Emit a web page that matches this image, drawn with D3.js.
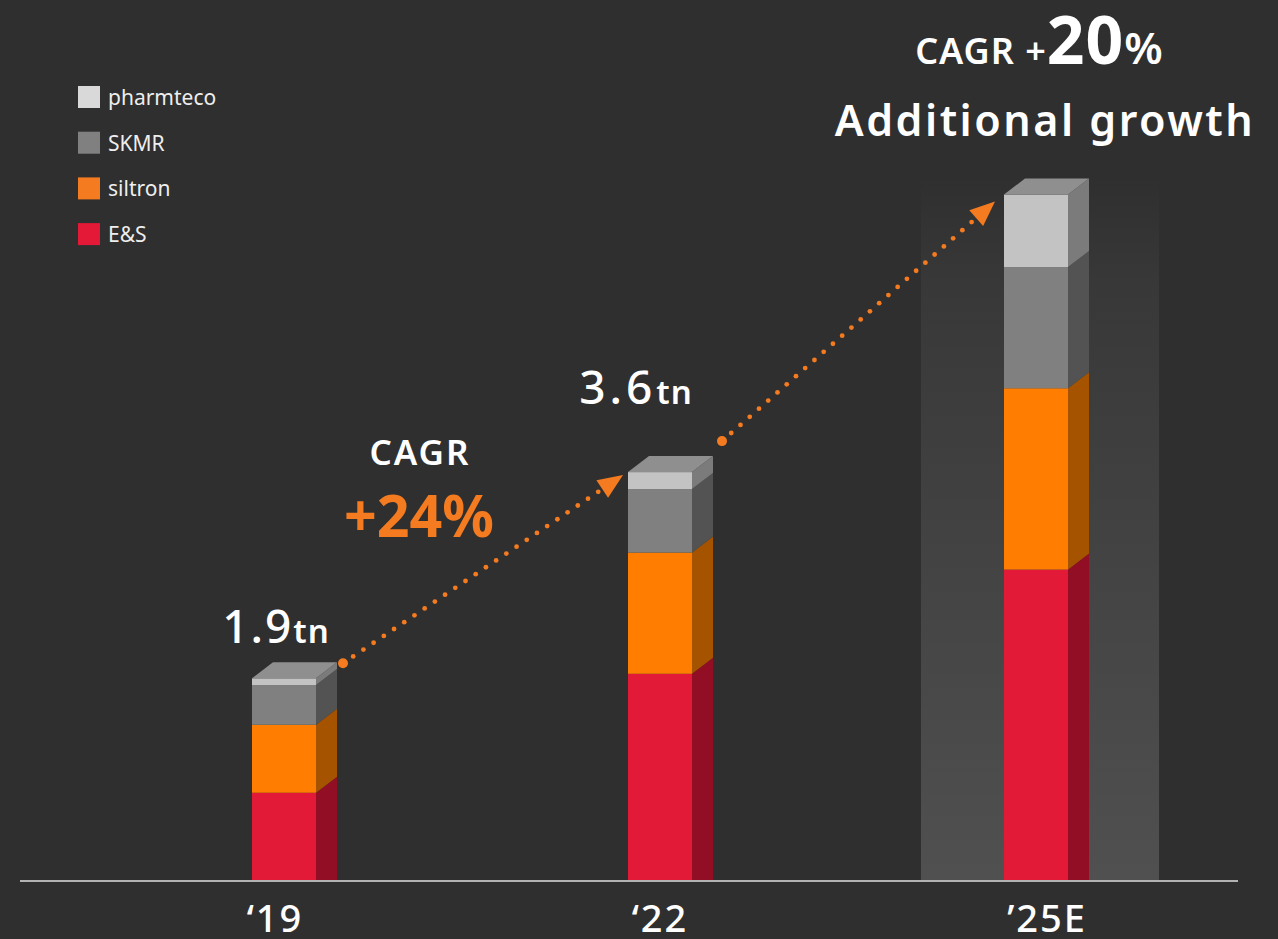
<!DOCTYPE html>
<html>
<head>
<meta charset="utf-8">
<script src="https://cdn.jsdelivr.net/npm/d3@7"></script>
<style>
  html, body { margin: 0; padding: 0; background: #2f2f2f; }
  svg { display: block; }
</style>
</head>
<body>
<div class="chart-container" style="width:1278px;height:939px"></div>
<script>
// data (trillion KRW)
const years = ['19', '22', '25E'];
const yearLabels = ['\u201819', '\u201822', '\u201925E'];
const segments = ['E&S', 'siltron', 'SKMR', 'pharmteco'];
const esVals = [0.77, 1.82, 2.74];
const siltronVals = [0.60, 1.07, 1.60];
const skmrVals = [0.35, 0.56, 1.07];
const pharmVals = [0.06, 0.15, 0.64];
const totalLabels = ['1.9', '3.6', null];
const legendOrder = ['pharmteco', 'SKMR', 'siltron', 'E&S'];

const front = { 'E&S': '#e21a38', 'siltron': '#ff7d00', 'SKMR': '#808080', 'pharmteco': '#c3c3c3' };
const side = { 'E&S': '#920e24', 'siltron': '#a65300', 'SKMR': '#535353', 'pharmteco': '#7b7b7b' };
const legendCol = { 'pharmteco': '#d9d9d9', 'SKMR': '#808080', 'siltron': '#f47b20', 'E&S': '#e31937' };

const table = years.map((y, i) => ({
  year: y, 'E&S': esVals[i], siltron: siltronVals[i], SKMR: skmrVals[i], pharmteco: pharmVals[i]
}));

const W = 1278, H = 939;
const base = 880;
const barW = 64, dx = 21, dy = 16;

const svg = d3.select('.chart-container').append('svg')
  .attr('width', W).attr('height', H)
  .style('font-family', '"Noto Sans", "Open Sans", sans-serif');

svg.append('rect').attr('width', W).attr('height', H).attr('fill', '#2f2f2f');

const x = d3.scalePoint().domain(years).range([96, 1224]).padding(0.5);
const y = d3.scaleLinear().domain([0, 7]).range([base, base - 7 * 113.3]);

const stack = d3.stack().keys(segments)(table);

// highlight column behind the estimate
const defs = svg.append('defs');
const grad = defs.append('linearGradient').attr('id', 'glow')
  .attr('x1', 0).attr('y1', 0).attr('x2', 0).attr('y2', 1);
grad.append('stop').attr('offset', '0%').attr('stop-color', '#2f2f2f');
grad.append('stop').attr('offset', '15%').attr('stop-color', '#383838');
grad.append('stop').attr('offset', '100%').attr('stop-color', '#505050');

svg.append('rect')
  .attr('x', x('25E') - 115).attr('width', 238)
  .attr('y', y(6.2)).attr('height', base - y(6.2))
  .attr('fill', 'url(#glow)');

// bars
const plot = svg.append('g');
stack.forEach(layer => {
  const key = layer.key;
  const g = plot.append('g').attr('class', 'layer');
  layer.forEach(d => {
    const x0 = x(d.data.year) - barW / 2;
    const x1 = x0 + barW;
    const yt = y(d[1]), yb = y(d[0]);
    g.append('rect')
      .attr('x', x0).attr('y', yt).attr('width', barW).attr('height', yb - yt)
      .attr('fill', front[key]);
    const bottomY = d[0] === 0 ? yb : yb - dy;
    g.append('path')
      .attr('d', `M${x1},${yt}L${x1 + dx},${yt - dy}L${x1 + dx},${bottomY}L${x1},${yb}Z`)
      .attr('fill', side[key]);
  });
});

// top faces
table.forEach(d => {
  const tot = segments.reduce((s, k) => s + d[k], 0);
  const x0 = x(d.year) - barW / 2, yt = y(tot);
  plot.append('path')
    .attr('d', `M${x0},${yt}L${x0 + dx},${yt - dy}L${x0 + barW + dx},${yt - dy}L${x0 + barW},${yt}Z`)
    .attr('fill', '#8f8f8f');
});

// baseline
svg.append('line')
  .attr('x1', 20).attr('x2', 1238).attr('y1', base + 1).attr('y2', base + 1)
  .attr('stroke', '#b3b3b3').attr('stroke-width', 2);

// x labels
svg.selectAll('.xl').data(years).join('text')
  .attr('class', 'xl')
  .attr('x', (d, i) => x(d) + [-9, 0, 11][i])
  .attr('y', 932)
  .attr('text-anchor', 'middle')
  .attr('fill', '#ffffff')
  .attr('font-size', 38)
  .attr('font-weight', 500)
  .attr('letter-spacing', 2)
  .text((d, i) => yearLabels[i]);

// total labels
table.forEach((d, i) => {
  if (!totalLabels[i]) return;
  const tot = segments.reduce((s, k) => s + d[k], 0);
  const t = svg.append('text')
    .attr('x', x(d.year) - 8 + (i === 1 ? -16 : 0))
    .attr('y', y(tot) - 35 - (i === 1 ? 33 : 0))
    .attr('text-anchor', 'middle')
    .attr('fill', '#ffffff')
    .attr('font-weight', 500);
  t.append('tspan').attr('font-size', 46).attr('letter-spacing', i === 1 ? 4 : 2).text(totalLabels[i]);
  t.append('tspan').attr('font-size', 33).attr('font-weight', 600).attr('letter-spacing', 1).text('tn');
});

// legend
const legend = svg.append('g').attr('transform', 'translate(78,86)');
legendOrder.forEach((k, i) => {
  const row = legend.append('g').attr('transform', `translate(0,${i * 45.7})`);
  row.append('rect').attr('width', 22).attr('height', 22).attr('fill', legendCol[k]);
  row.append('text').attr('x', 30).attr('y', 19)
    .attr('fill', '#eeeeee').attr('font-size', 21).text(k);
});

// dotted growth arrows
const orange = '#f47b20';
function arrow(sx, sy, ex, ey) {
  const g = svg.append('g');
  const len = Math.hypot(ex - sx, ey - sy);
  const ux = (ex - sx) / len, uy = (ey - sy) / len;
  const n = Math.floor((len - 22) / 12.3);
  g.append('circle').attr('cx', sx).attr('cy', sy).attr('r', 5).attr('fill', orange);
  d3.range(1, n + 1).forEach(j => {
    g.append('circle')
      .attr('cx', sx + ux * j * 12.3).attr('cy', sy + uy * j * 12.3)
      .attr('r', 2.4).attr('fill', orange);
  });
  const bx = ex - ux * 25, by = ey - uy * 25;
  const px = -uy, py = ux;
  g.append('path')
    .attr('d', `M${ex},${ey}L${bx + px * 10.5},${by + py * 10.5}L${bx - px * 10.5},${by - py * 10.5}Z`)
    .attr('fill', orange);
}
const tot = table.map(d => segments.reduce((s, k) => s + d[k], 0));
arrow(x('19') + barW / 2 + 27, y(tot[0]) - 15, x('22') - barW / 2 - 5, y(tot[1]) + 3);
arrow(x('22') + barW / 2 + 30, y(tot[1]) - 31, x('25E') - barW / 2 - 9, y(tot[2]) + 7);

// CAGR annotations
svg.append('text').attr('x', 420).attr('y', 465).attr('text-anchor', 'middle')
  .attr('fill', '#ffffff').attr('font-size', 35).attr('font-weight', 600)
  .attr('letter-spacing', 2).text('CAGR');
svg.append('text').attr('x', 419).attr('y', 537).attr('text-anchor', 'middle')
  .attr('fill', orange).attr('font-size', 60).attr('font-weight', 700)
  .attr('textLength', 150).attr('lengthAdjust', 'spacingAndGlyphs').text('+24%');

const c2 = svg.append('text').attr('x', 1039).attr('y', 64).attr('text-anchor', 'middle')
  .attr('fill', '#ffffff').attr('font-weight', 600);
c2.append('tspan').attr('font-size', 36).attr('letter-spacing', 1).text('CAGR +');
c2.append('tspan').attr('font-size', 66).attr('font-weight', 700).attr('letter-spacing', 1).text('20');
c2.append('tspan').attr('font-size', 44).text('%');
svg.append('text').attr('x', 1045).attr('y', 136).attr('text-anchor', 'middle')
  .attr('fill', '#ffffff').attr('font-size', 43).attr('font-weight', 600)
  .attr('letter-spacing', 2.5).text('Additional growth');
</script>
</body>
</html>
